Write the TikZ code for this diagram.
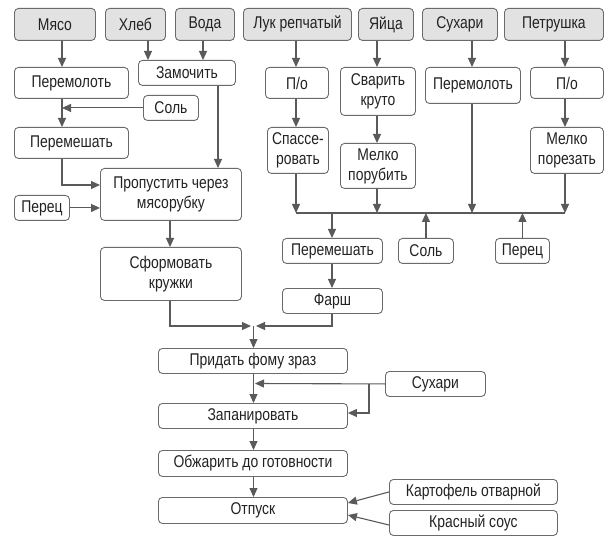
\documentclass[tikz,border=0pt]{standalone}
\usepackage{fontspec}
\setmainfont{Liberation Sans}[FakeStretch=0.82]
\usetikzlibrary{arrows.meta}
\definecolor{linec}{HTML}{5A5A5A}
\definecolor{boxc}{HTML}{6A6A6A}
\definecolor{topfill}{HTML}{E2E2E2}
\definecolor{txt}{HTML}{222222}
\tikzset{
  box/.style={draw=boxc, line width=0.9pt, rounded corners=4pt, inner sep=0pt,
    anchor=north west, align=center, text=txt,
    font=\fontsize{17}{20}\selectfont},
  topbox/.style={box, fill=topfill},
  arr/.style={draw=linec, line width=1.1pt, -{Triangle[length=9pt,width=8pt]}},
  ln/.style={draw=linec, line width=1.1pt}
}
\newcommand\bx[7]{\node[#1, minimum width=#5pt-#3pt, minimum height=#6pt-#4pt] (#2) at (#3,#4) {#7};}
\begin{document}
\begin{tikzpicture}[x=1pt,y=-1pt]
\useasboundingbox (0,0) rectangle (616,540);
% top row
\bx{topbox}{myaso}{14}{8}{95}{40}{Мясо}
\bx{topbox}{hleb}{105}{8}{165}{40}{Хлеб}
\bx{topbox}{voda}{175}{8}{234}{40}{Вода}
\bx{topbox}{luk}{243}{8}{351}{40}{Лук репчатый}
\bx{topbox}{yaitsa}{358}{8}{413}{40}{Яйца}
\bx{topbox}{suhari}{422}{8}{497}{40}{Сухари}
\bx{topbox}{petr}{504}{8}{603}{40}{Петрушка}
% second row
\bx{box}{pmol1}{14}{67}{128}{98}{Перемолоть}
\bx{box}{zamoch}{138}{60}{235}{85}{Замочить}
\bx{box}{po1}{265}{67}{328}{98}{П/о}
\bx{box}{svar}{340}{67}{415}{115}{Сварить\\круто}
\bx{box}{pmol2}{425}{67}{520}{103}{Перемолоть}
\bx{box}{po2}{530}{67}{603}{98}{П/о}
% third row
\bx{box}{sol1}{143}{95}{198}{120}{Соль}
\bx{box}{pmesh1}{14}{127}{128}{158}{Перемешать}
\bx{box}{spas}{267}{127}{328}{173}{Спассе-\\ровать}
\bx{box}{melpor}{340}{143}{415}{188}{Мелко\\порубить}
\bx{box}{melrez}{530}{127}{603}{173}{Мелко\\порезать}
% fourth
\bx{box}{propusk}{100}{168}{241}{220}{Пропустить через\\мясорубку}
\bx{box}{perec1}{14}{195}{69}{220}{Перец}
\bx{box}{sform}{100}{247}{241}{300}{Сформовать\\кружки}
\bx{box}{pmesh2}{282}{238}{382}{263}{Перемешать}
\bx{box}{sol2}{398}{238}{453}{263}{Соль}
\bx{box}{perec2}{495}{238}{549}{263}{Перец}
\bx{box}{farsh}{282}{288}{382}{313}{Фарш}
% bottom column
\bx{box}{pridat}{158}{348}{347}{373}{Придать фому зраз}
\bx{box}{suhari2}{385}{371}{485}{396}{Сухари}
\bx{box}{zapan}{158}{403}{347}{428}{Запанировать}
\bx{box}{obzh}{158}{450}{347}{476}{Обжарить до готовности}
\bx{box}{otpusk}{158}{497}{347}{523}{Отпуск}
\bx{box}{kart}{389}{479}{557}{504}{Картофель отварной}
\bx{box}{kras}{389}{510}{557}{535}{Красный соус}
% coordinates
\coordinate (mL) at (251,326);
\coordinate (mR) at (256,326);
\coordinate (mC) at (253.5,326);
\coordinate (busL) at (296,213);
\coordinate (busR) at (565,213);
\coordinate (sj) at (255,383.5);
\coordinate (sb) at (369,383.5);
% left branch
\draw[arr] (myaso.south -| 62,0) -- (pmol1.north -| 62,0);
\draw[arr] (hleb.south -| 148,0) -- (zamoch.north -| 148,0);
\draw[arr] (voda.south -| 203,0) -- (zamoch.north -| 203,0);
\draw[arr] (pmol1.south -| 62,0) -- (pmesh1.north -| 62,0);
\draw[arr] (sol1.west) -- (sol1.west -| 62,0);
\draw[arr] (pmesh1.south -| 62,0) |- (propusk.west |- 0,185);
\draw[arr] (perec1.east) -- (perec1.east -| propusk.west);
\draw[arr] (zamoch.south -| 218,0) -- (propusk.north -| 218,0);
\draw[arr] (propusk.south -| 170,0) -- (sform.north -| 170,0);
\draw[arr] (sform.south -| 170,0) |- (mL);
% right branch
\draw[arr] (luk.south -| busL) -- (po1.north -| busL);
\draw[arr] (po1.south -| busL) -- (spas.north -| busL);
\draw[arr] (spas.south -| busL) -- (busL);
\draw[arr] (yaitsa.south -| 377,0) -- (svar.north -| 377,0);
\draw[arr] (svar.south -| 377,0) -- (melpor.north -| 377,0);
\draw[arr] (melpor.south -| 377,0) -- (busL -| 377,0);
\draw[arr] (suhari.south -| 472,0) -- (pmol2.north -| 472,0);
\draw[arr] (pmol2.south -| 472,0) -- (busL -| 472,0);
\draw[arr] (petr.south -| busR) -- (po2.north -| busR);
\draw[arr] (po2.south -| busR) -- (melrez.north -| busR);
\draw[arr] (melrez.south -| busR) -- (busR);
\draw[ln] (busL) -- (busR);
\draw[arr] (busL -| 332,0) -- (pmesh2.north -| 332,0);
\draw[arr] (sol2.north) -- (sol2.north |- busL);
\draw[arr] (perec2.north) -- (perec2.north |- busL);
\draw[arr] (pmesh2.south -| 332,0) -- (farsh.north -| 332,0);
\draw[arr] (farsh.south -| 332,0) |- (mR);
% bottom column
\draw[arr] (mC) -- (pridat.north -| mC);
\draw[arr] (pridat.south -| mC) -- (zapan.north -| mC);
\draw[arr] (suhari2.west) -- (sj);
\draw[arr] (sb) |- (zapan.east |- 0,413);
\draw[arr] (zapan.south -| mC) -- (obzh.north -| mC);
\draw[arr] (obzh.south -| mC) -- (otpusk.north -| mC);
\draw[arr] (kart.west) -- (otpusk.east |- 0,503);
\draw[arr] (kras.west |- 0,525) -- (otpusk.east |- 0,515);
\end{tikzpicture}
\end{document}
